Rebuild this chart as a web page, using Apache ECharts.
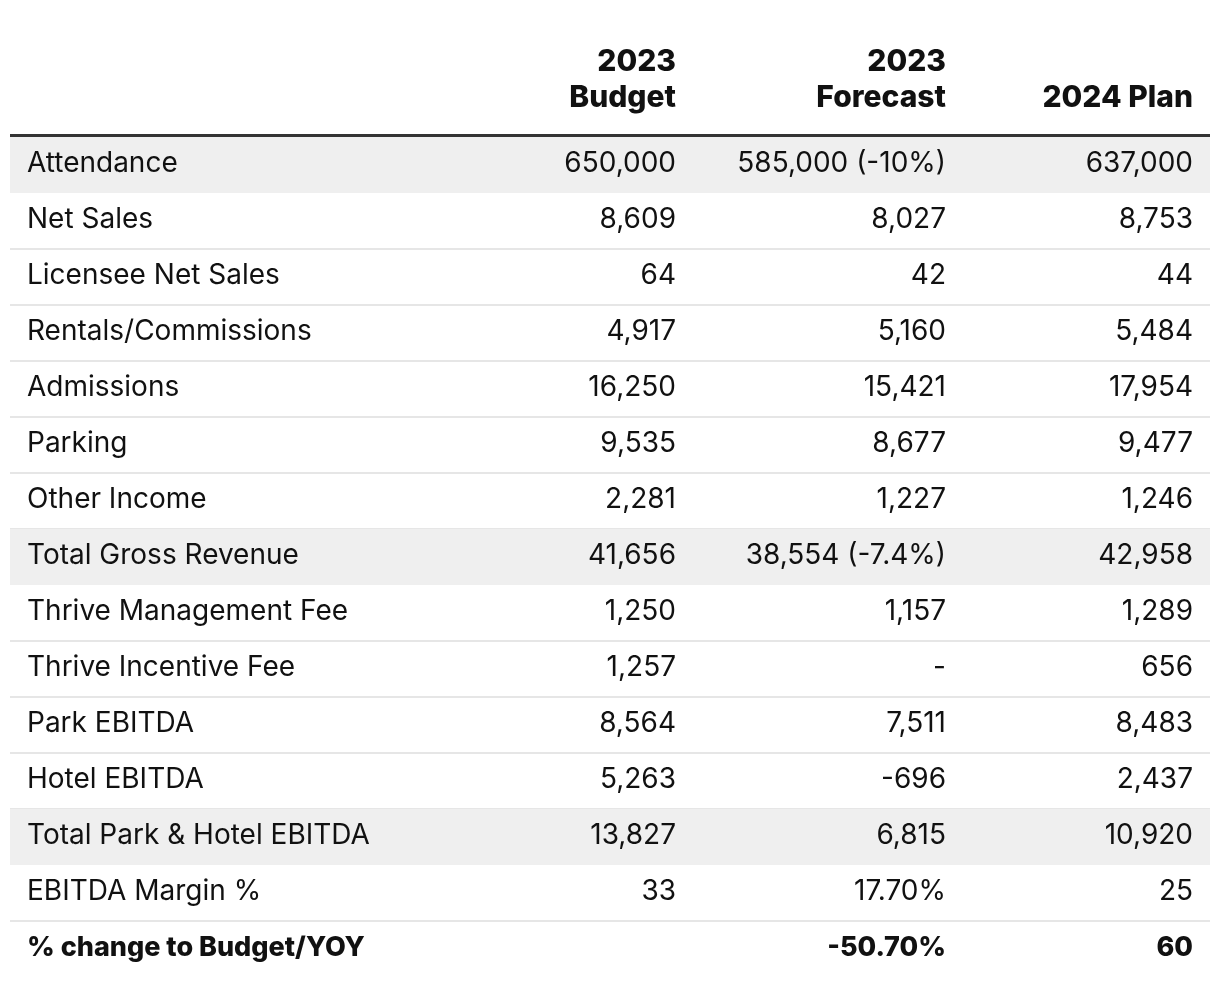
<!DOCTYPE html>
<html><head><meta charset="utf-8">
<script src="https://cdn.jsdelivr.net/npm/echarts@6/dist/echarts.min.js"></script>
<style>html,body{margin:0;padding:0;background:#fff}#c{width:1220px;height:986px}</style>
</head><body><div id="c"></div>
<script>
const rowLabels = ['Attendance','Net Sales','Licensee Net Sales','Rentals/Commissions','Admissions','Parking','Other Income','Total Gross Revenue','Thrive Management Fee','Thrive Incentive Fee','Park EBITDA','Hotel EBITDA','Total Park & Hotel EBITDA','EBITDA Margin %','% change to Budget/YOY'];
const budget2023 = ['650,000','8,609','64','4,917','16,250','9,535','2,281','41,656','1,250','1,257','8,564','5,263','13,827','33',''];
const forecast2023 = ['585,000 (-10%)','8,027','42','5,160','15,421','8,677','1,227','38,554 (-7.4%)','1,157','-','7,511','-696','6,815','17.70%','-50.70%'];
const plan2024 = ['637,000','8,753','44','5,484','17,954','9,477','1,246','42,958','1,289','656','8,483','2,437','10,920','25','60'];
const columnHeaders = [['2023','Budget'],['2023','Forecast'],['','2024 Plan']];
const shadedRows = ['Attendance','Total Gross Revenue','Total Park & Hotel EBITDA'];
const boldRows = ['% change to Budget/YOY'];

// layout (x positions in axis units = px within grid)
const labelX = 17;
const colX = [666, 936, 1183];
const FONT = 'Inter, Roboto, sans-serif';

const chart = echarts.init(document.getElementById('c'), null, {renderer:'canvas'});
const columns = [budget2023, forecast2023, plan2024];

function renderRow(params, api) {
  const i = params.dataIndex;
  const c = api.coord([0, i]);
  const h = api.size([0, 1])[1];
  const left = api.coord([0, i])[0];
  const right = api.coord([1200, i])[0];
  const cy = c[1];
  const top = cy - h / 2, bottom = cy + h / 2;
  const children = [];
  const label = rowLabels[i];
  const shaded = shadedRows.indexOf(label) >= 0;
  const bold = boldRows.indexOf(label) >= 0;
  if (shaded) {
    children.push({type:'rect', shape:{x:left, y:top, width:right-left, height:h}, style:{fill:'#efefef'}});
  } else if (i < rowLabels.length - 1) {
    children.push({type:'line', shape:{x1:left, y1:bottom, x2:right, y2:bottom}, style:{stroke:'#e6e6e6', lineWidth:2}});
  }
  const font = bold ? ('800 27px ' + FONT) : ('400 28px ' + FONT);
  children.push({type:'text', style:{text:label, x:api.coord([labelX, i])[0], y:cy-1, font:font, fill:'#111', textAlign:'left', textVerticalAlign:'middle'}});
  columns.forEach((col, k) => {
    children.push({type:'text', style:{text:col[i], x:api.coord([colX[k], i])[0], y:cy-1, font:font, fill:'#111', textAlign:'right', textVerticalAlign:'middle'}});
  });
  return {type:'group', children};
}

function renderHeader(params, api) {
  const h = api.size([0, 1])[1];
  const top = api.coord([0, 0])[1] - h / 2;
  const left = api.coord([0, 0])[0];
  const right = api.coord([1200, 0])[0];
  const children = [];
  children.push({type:'line', shape:{x1:left, y1:top-1.5, x2:right, y2:top-1.5}, style:{stroke:'#333', lineWidth:3}});
  columnHeaders.forEach((hd, k) => {
    const x = api.coord([colX[k], 0])[0];
    hd.forEach((t, j) => {
      if (!t) return;
      children.push({type:'text', style:{text:t, x:x, y:top - 75 + j*36, font:'800 30px ' + FONT, fill:'#111', textAlign:'right', textVerticalAlign:'middle'}});
    });
  });
  return {type:'group', children};
}

chart.setOption({
  animation:false,
  grid:{left:10, right:10, top:137, height:840},
  xAxis:{type:'value', min:0, max:1200, show:false},
  yAxis:{type:'category', data:rowLabels, inverse:true, show:false},
  series:[
    {type:'custom', renderItem:renderRow, data:rowLabels.map((r,i)=>[0,i]), encode:{x:0,y:1}, clip:false},
    {type:'custom', renderItem:renderHeader, data:[[0,0]], encode:{x:0,y:1}, clip:false, z:3}
  ]
});
</script></body></html>
